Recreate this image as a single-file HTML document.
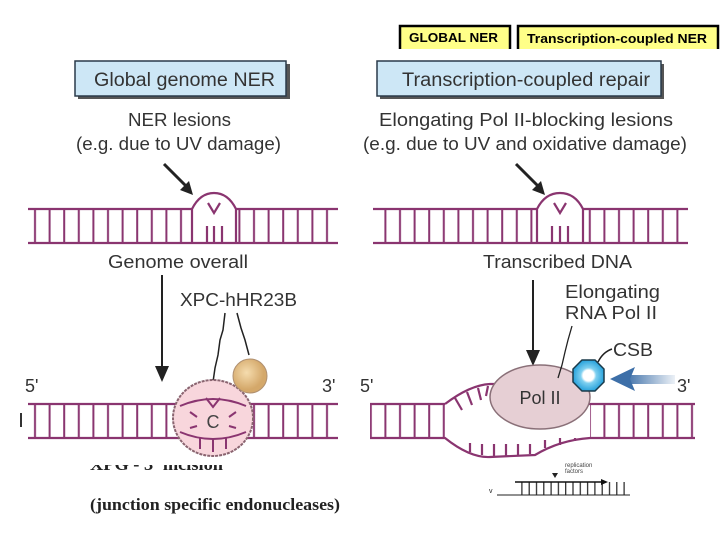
<!DOCTYPE html>
<html><head><meta charset="utf-8"><style>
body{margin:0;background:#fff;}
svg{display:block}
text{font-family:"Liberation Sans",sans-serif}
</style></head><body>
<svg width="720" height="540" viewBox="0 0 720 540" xmlns="http://www.w3.org/2000/svg">
<defs>
<pattern id="r1" x="28" y="0" width="14.6" height="540" patternUnits="userSpaceOnUse"><rect x="6" y="0" width="2" height="540" fill="#8a3570"/></pattern>
<pattern id="r2" x="0" y="0" width="7.3" height="540" patternUnits="userSpaceOnUse"><rect x="3" y="0" width="1.2" height="540" fill="#222"/></pattern>
<linearGradient id="ba" x1="0" x2="1"><stop offset="0" stop-color="#3d6fa8"/><stop offset="1" stop-color="#3d6fa8" stop-opacity="0.1"/></linearGradient>
<radialGradient id="tan" cx="0.4" cy="0.4"><stop offset="0" stop-color="#f5dcae"/><stop offset="1" stop-color="#d4a86a"/></radialGradient>
<radialGradient id="csb"><stop offset="0" stop-color="#fff"/><stop offset="0.35" stop-color="#fff"/><stop offset="0.5" stop-color="#7fd0f0"/><stop offset="1" stop-color="#2aa3dc"/></radialGradient>
<clipPath id="cut"><rect x="0" y="465" width="400" height="20"/></clipPath>
</defs>

<rect x="400" y="26" width="110" height="26" fill="#ffff88" stroke="#000" stroke-width="2.5"/>
<text x="409" y="42" font-size="12.5" font-weight="bold" textLength="89" lengthAdjust="spacingAndGlyphs">GLOBAL NER</text>
<rect x="518" y="26" width="200" height="26" fill="#ffff88" stroke="#000" stroke-width="2.5"/>
<text x="527" y="43" font-size="13" font-weight="bold" textLength="180" lengthAdjust="spacingAndGlyphs">Transcription-coupled NER</text>
<rect x="0" y="49" width="720" height="10" fill="#fff"/>

<rect x="78" y="64" width="212" height="35" fill="#555"/>
<rect x="75" y="61" width="211" height="35" fill="#cde7f6" stroke="#2a3a4a" stroke-width="1.5"/>
<text x="94" y="86" font-size="19" fill="#333" textLength="181" lengthAdjust="spacingAndGlyphs">Global genome NER</text>
<rect x="380" y="64" width="284" height="35" fill="#555"/>
<rect x="377" y="61" width="284" height="35" fill="#cde7f6" stroke="#2a3a4a" stroke-width="1.5"/>
<text x="402" y="86" font-size="19" fill="#333" textLength="248" lengthAdjust="spacingAndGlyphs">Transcription-coupled repair</text>

<g font-size="18" fill="#333">
<text x="128" y="126" textLength="103" lengthAdjust="spacingAndGlyphs">NER lesions</text>
<text x="76" y="150" textLength="205" lengthAdjust="spacingAndGlyphs">(e.g. due to UV damage)</text>
<text x="379" y="126" textLength="294" lengthAdjust="spacingAndGlyphs">Elongating Pol II-blocking lesions</text>
<text x="363" y="150" textLength="324" lengthAdjust="spacingAndGlyphs">(e.g. due to UV and oxidative damage)</text>
<text x="108" y="268" textLength="140" lengthAdjust="spacingAndGlyphs">Genome overall</text>
<text x="483" y="268" textLength="149" lengthAdjust="spacingAndGlyphs">Transcribed DNA</text>
<text x="180" y="306" textLength="117" lengthAdjust="spacingAndGlyphs">XPC-hHR23B</text>
</g>

<g stroke="#222" stroke-width="3">
<line x1="164" y1="164" x2="186" y2="186"/>
<line x1="516" y1="164" x2="538" y2="186"/>
</g>
<polygon points="193,195 180,190 189,181" fill="#222"/>
<polygon points="545,195 532,190 541,181" fill="#222"/>

<rect x="28" y="209" width="164" height="34" fill="url(#r1)"/>
<rect x="236" y="209" width="102" height="34" fill="url(#r1)"/>
<g stroke="#8a3570" fill="none" stroke-width="2.2">
<line x1="28" y1="209" x2="192" y2="209"/><line x1="236" y1="209" x2="338" y2="209"/>
<line x1="28" y1="243" x2="338" y2="243"/>
<path d="M192 243 V209 Q200 193 214 193 Q228 193 236 209 V243"/>
<path d="M208 203 L214 213 L220 203"/>
<path d="M207 243V226 M214 243V226 M222 243V226"/>
</g>
<rect x="373" y="209" width="164" height="34" fill="url(#r1)"/>
<rect x="583" y="209" width="105" height="34" fill="url(#r1)"/>
<g stroke="#8a3570" fill="none" stroke-width="2.2">
<line x1="373" y1="209" x2="537" y2="209"/><line x1="583" y1="209" x2="688" y2="209"/>
<line x1="373" y1="243" x2="688" y2="243"/>
<path d="M537 243 V209 Q545 193 560 193 Q575 193 583 209 V243"/>
<path d="M554 203 L560 213 L566 203"/>
<path d="M552 243V226 M560 243V226 M568 243V226"/>
</g>

<line x1="162" y1="275" x2="162" y2="368" stroke="#222" stroke-width="2"/>
<polygon points="155,366 169,366 162,382" fill="#222"/>
<line x1="533" y1="280" x2="533" y2="352" stroke="#222" stroke-width="2"/>
<polygon points="526,350 540,350 533,366" fill="#222"/>

<rect x="28" y="404" width="310" height="34" fill="url(#r1)"/>
<g stroke="#8a3570" stroke-width="2.2"><line x1="28" y1="404" x2="338" y2="404"/><line x1="28" y1="438" x2="338" y2="438"/></g>
<text x="25" y="392" font-size="18" fill="#333">5'</text>
<text x="322" y="392" font-size="18" fill="#333">3'</text>
<rect x="20" y="413" width="2" height="14" fill="#333"/>
<path d="M225 313 L223 330 L220 340 L218 355 L215 368 L213 382" stroke="#222" fill="none" stroke-width="1.5"/>
<path d="M237 313 L241 328 L245 340 L249 355" stroke="#222" fill="none" stroke-width="1.5"/>
<ellipse cx="213" cy="418" rx="40" ry="38" fill="#f8d6dc" stroke="#8a6470" stroke-width="2" stroke-dasharray="3 1"/>
<g stroke="#8a3570" fill="none" stroke-width="2">
<path d="M180 406 Q213 392 246 406"/><path d="M180 432 Q213 446 246 432"/>
<path d="M206 398 L213 407 L220 398"/>
<path d="M190 412 L197 417 M236 412 L229 417 M200 437 V449 M213 438 V452 M226 437 V449 M190 428 L197 426 M236 428 L229 426"/>
</g>
<text x="213" y="428" font-size="18" fill="#444" text-anchor="middle">C</text>
<circle cx="250" cy="376" r="17" fill="url(#tan)" stroke="#b09070" stroke-width="1"/>

<rect x="370" y="404" width="75" height="34" fill="url(#r1)"/>
<rect x="590" y="404" width="105" height="34" fill="url(#r1)"/>
<g stroke="#8a3570" fill="none" stroke-width="2.2">
<line x1="370" y1="404" x2="445" y2="404"/>
<path d="M445 404 Q470 385 490 384 L510 384"/>
<line x1="560" y1="404" x2="695" y2="404"/>
<path d="M370 438 L445 438 Q470 458 490 457 L535 455 Q560 440 590 438 L695 438"/>
<path d="M455 398 L462 410 M467 392 L472 405 M478 388 L481 400 M488 386 L486 396"/>
<path d="M470 443 V452 M482 444 V455 M494 444 V456 M506 444 V456 M518 444 V455 M530 444 V454 M545 440 V448 M560 438 V445 M575 438 V441"/>
</g>
<text x="360" y="392" font-size="18" fill="#333">5'</text>
<text x="677" y="392" font-size="18" fill="#333">3'</text>
<ellipse cx="540" cy="397" rx="50" ry="32" fill="#e6cfd4" stroke="#8a7078" stroke-width="1.5"/>
<text x="540" y="404" font-size="18" fill="#333" text-anchor="middle">Pol II</text>
<text x="565" y="298" font-size="18" fill="#333" textLength="95" lengthAdjust="spacingAndGlyphs">Elongating</text>
<text x="565" y="319" font-size="18" fill="#333" textLength="92" lengthAdjust="spacingAndGlyphs">RNA Pol II</text>
<path d="M572 326 L568 340 L565 352 L562 365 L558 378" stroke="#222" fill="none" stroke-width="1.3"/>
<polygon points="582,360 595,360 604,369 604,382 595,391 582,391 573,382 573,369" fill="url(#csb)" stroke="#1a3a4a" stroke-width="1.5"/>
<path d="M598 362 Q603 352 612 349" stroke="#222" fill="none" stroke-width="1.5"/>
<text x="613" y="356" font-size="18" fill="#333" textLength="40" lengthAdjust="spacingAndGlyphs">CSB</text>
<rect x="625" y="375" width="50" height="9" fill="url(#ba)"/>
<polygon points="610,379 635,367 630,379 635,391" fill="#3d6fa8"/>

<g clip-path="url(#cut)"><text x="90" y="470" style="font-family:'Liberation Serif',serif" font-weight="bold" font-size="16.5" fill="#222" textLength="133" lengthAdjust="spacingAndGlyphs">XPG - 3' incision</text></g>
<text x="90" y="510" style="font-family:'Liberation Serif',serif" font-weight="bold" font-size="16.5" fill="#222" textLength="250" lengthAdjust="spacingAndGlyphs">(junction specific endonucleases)</text>

<text x="565" y="467" font-size="6" fill="#444">replication</text>
<text x="565" y="473" font-size="6" fill="#444">factors</text>
<polygon points="552,473 558,473 555,478" fill="#222"/>
<text x="489" y="493" font-size="7" fill="#222">v</text>
<line x1="497" y1="495" x2="630" y2="495" stroke="#222" stroke-width="1"/>
<rect x="520" y="482" width="110" height="13" fill="url(#r2)"/>
<line x1="515" y1="482" x2="603" y2="482" stroke="#111" stroke-width="1.5"/>
<polygon points="601,479 608,482 601,485" fill="#111"/>
</svg>
</body></html>
